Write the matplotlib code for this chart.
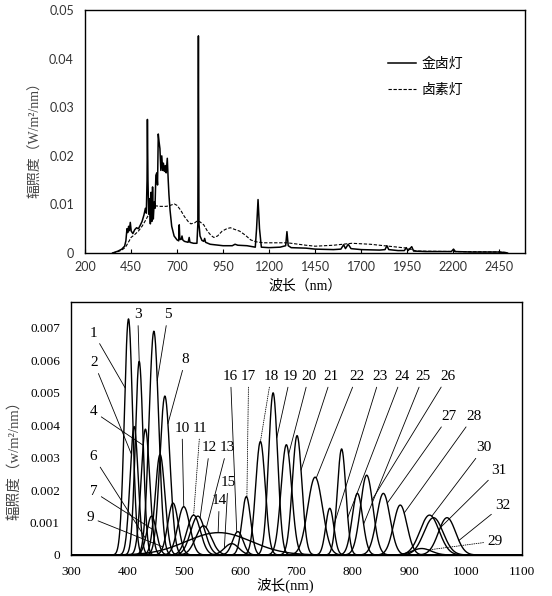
import numpy as np
import matplotlib
matplotlib.use("Agg")
import matplotlib.pyplot as plt

# ---- top panel: lamp spectra (wavelength nm, irradiance W/m2/nm) ----
mh_wl = [350, 380, 400, 415, 422, 428, 432, 437, 441, 446, 451, 460, 470, 480, 490,
         500, 510, 520, 528, 533, 537, 539, 542, 546, 551, 555, 559, 563, 567, 571,
         576, 580, 585, 590, 594, 598, 602, 607, 612, 617, 622, 626, 631, 636, 641,
         647, 652, 656, 662, 671, 684, 700, 709, 712, 715, 722, 727, 731, 740, 760,
         766, 770, 790, 808, 813, 816, 819, 825, 835, 845, 850, 855, 880, 950, 1000,
         1015, 1030, 1080, 1110, 1125, 1132, 1140, 1148, 1158, 1200, 1260, 1290, 1297,
         1304, 1320, 1400, 1450, 1550, 1590, 1605, 1615, 1630, 1645, 1700, 1800, 1830,
         1840, 1850, 1900, 1935, 1945, 1955, 1975, 1985, 2050, 2190, 2202, 2212, 2300,
         2450, 2480, 2495]
mh_val = [0, 0.0004, 0.0008, 0.0014, 0.0025, 0.005, 0.0042, 0.0055, 0.0046, 0.0063,
          0.0045, 0.004, 0.0048, 0.0052, 0.005, 0.0057, 0.0065, 0.0078, 0.0092, 0.0082,
          0.015, 0.0275, 0.015, 0.008, 0.0112, 0.006, 0.0125, 0.0065, 0.0136, 0.007,
          0.0105, 0.0092, 0.016, 0.0165, 0.014, 0.0245, 0.023, 0.0215, 0.017, 0.02,
          0.017, 0.0185, 0.0168, 0.018, 0.0165, 0.0195, 0.015, 0.012, 0.0088, 0.0055,
          0.0035, 0.0027, 0.0025, 0.0058, 0.0028, 0.0028, 0.0035, 0.0027, 0.0024, 0.0022,
          0.0032, 0.0022, 0.002, 0.002, 0.006, 0.0447, 0.006, 0.0035, 0.0026, 0.0024,
          0.003, 0.0022, 0.0018, 0.0015, 0.0015, 0.0018, 0.0016, 0.0015, 0.0013, 0.0012,
          0.005, 0.011, 0.005, 0.0012, 0.0011, 0.0012, 0.0015, 0.0044, 0.0015, 0.0011,
          0.001, 0.0008, 0.0007, 0.0008, 0.0017, 0.0009, 0.0018, 0.0009, 0.0007, 0.0006,
          0.0007, 0.0015, 0.0007, 0.0005, 0.0005, 0.0011, 0.0005, 0.0013, 0.0004, 0.0003,
          0.0003, 0.0008, 0.0003, 0.0002, 0.0002, 0.0001, 0]

hal_wl = [350, 380, 400, 420, 440, 450, 470, 490, 510, 530, 550, 570, 585, 610, 640,
          655, 670, 685, 700, 720, 740, 760, 775, 795, 810, 825, 845, 865, 885, 900,
          920, 945, 970, 990, 1010, 1040, 1070, 1100, 1130, 1170, 1250, 1300, 1400,
          1450, 1550, 1650, 1750, 1850, 1950, 2000, 2200, 2450, 2490]
hal_val = [0, 0.0003, 0.0006, 0.0012, 0.0025, 0.0032, 0.0038, 0.0045, 0.0055, 0.0068,
           0.0082, 0.0093, 0.0097, 0.0096, 0.0096, 0.0097, 0.0099, 0.0101, 0.0098,
           0.0088, 0.0075, 0.0065, 0.006, 0.0062, 0.0066, 0.0064, 0.0058, 0.0045,
           0.0036, 0.0032, 0.0035, 0.0045, 0.005, 0.0052, 0.0049, 0.0045, 0.0037,
           0.0027, 0.0023, 0.0021, 0.0021, 0.0021, 0.0016, 0.0014, 0.0016, 0.002,
           0.0018, 0.0014, 0.001, 0.0004, 0.0003, 0.0002, 0.0001]

top_xticks = [200, 450, 700, 950, 1200, 1450, 1700, 1950, 2200, 2450]
top_yticks = [0, 0.01, 0.02, 0.03, 0.04, 0.05]
top_ylabels = ["0", "0.01", "0.02", "0.03", "0.04", "0.05"]

# ---- bottom panel: 32 LED channels (peak nm, peak irradiance, FWHM nm) ----
led_peak = [402, 412, 421, 432, 447, 443, 458, 466.5, 481, 500, 517.5, 525, 535, 562,
            585, 596, 611, 636, 658.5, 682, 701, 733, 759, 780, 808, 824.5, 854, 884,
            922, 936, 943, 967]
led_height = [0.00728, 0.00396, 0.00597, 0.00388, 0.0069, 0.0012, 0.0031, 0.0049,
              0.0016, 0.00149, 0.00123, 0.0012, 0.0009, 0.00069, 0.00035, 0.00072,
              0.0018, 0.0035, 0.005, 0.0034, 0.00368, 0.0024, 0.00144, 0.00327,
              0.0019, 0.00246, 0.0019, 0.00154, 0.0002, 0.00123, 0.00115, 0.00115]
led_fwhm = [17, 17, 16, 18, 20, 20, 20, 21, 22, 25, 28, 30, 32, 136, 30, 22, 18, 20,
            19, 22, 20, 31, 17, 18, 22, 26, 28, 28, 40, 40, 40, 36]

# label: wavelength where the leader meets the curve, text position
lab_target = [396, 407, 421, 428, 453, 432, 444, 472, 463, 500, 517.5, 529, 540, 561,
              572, 594, 612, 636, 665, 686, 708, 735, 766, 791, 819, 834, 861, 891,
              934, 940, 956, 988]
lab_tx = [340, 341, 418.5, 340, 472, 340, 340, 503, 334, 497, 529, 546, 577, 563,
          578.5, 583, 615, 655, 689, 722, 762, 807, 848, 887, 925, 968, 970, 1014,
          1052.5, 1032, 1058.6, 1066]
lab_ty = [0.00684, 0.00592, 0.0074, 0.00442, 0.0074, 0.00303, 0.00195, 0.00602,
          0.00115, 0.0039, 0.0039, 0.0033, 0.0033, 0.00167, 0.00223, 0.0055, 0.0055,
          0.0055, 0.0055, 0.0055, 0.0055, 0.0055, 0.0055, 0.0055, 0.0055, 0.0055,
          0.00427, 0.00427, 0.00043, 0.0033, 0.00262, 0.00154]
dotted_labels = [11, 17, 18, 29]

bot_xticks = [300, 400, 500, 600, 700, 800, 900, 1000, 1100]
bot_yticks = [0, 0.001, 0.002, 0.003, 0.004, 0.005, 0.006, 0.007]
bot_ylabels = ["0", "0.001", "0.002", "0.003", "0.004", "0.005", "0.006", "0.007"]

serif_cjk = ["Liberation Serif", "Noto Sans CJK SC", "DejaVu Sans"]
sans_cjk = ["Lato", "Noto Sans CJK SC", "DejaVu Sans"]

fig = plt.figure(figsize=(5.52, 5.96), dpi=100)

# ---------------- top panel ----------------
ax1 = fig.add_axes([0.154, 0.5755, 0.797, 0.4075])
ax1.plot(mh_wl, mh_val, color="black", lw=1.1, label="金卤灯")
ax1.plot(hal_wl, hal_val, color="black", lw=0.8, ls=(0, (3, 1.5)), label="卤素灯")
ax1.set_xlim(200, 2590)
ax1.set_ylim(0, 0.05)
ax1.set_xticks(top_xticks)
ax1.set_yticks(top_yticks)
ax1.set_yticklabels(top_ylabels)
ax1.tick_params(axis="x", direction="in", length=3, width=0.8, pad=6)
ax1.tick_params(axis="y", length=0, pad=8)
for lbl in ax1.get_xticklabels() + ax1.get_yticklabels():
    lbl.set_family(sans_cjk)
    lbl.set_fontsize(9)
    lbl.set_color("#333333")
for sp in ax1.spines.values():
    sp.set_linewidth(1.0)
ax1.set_xlabel("波长（nm）", family=serif_cjk, fontsize=10)
ax1.xaxis.set_label_coords(0.5, -0.11)
ax1.set_ylabel("辐照度（W/m²/nm）", family=serif_cjk, fontsize=10, color="#444444")
ax1.yaxis.set_label_coords(-0.098, 0.48)
leg = ax1.legend(loc="upper left", bbox_to_anchor=(0.66, 0.855), frameon=False,
                 handlelength=2.0, handletextpad=0.4, labelspacing=0.9,
                 prop={"family": serif_cjk, "size": 10})

# ---------------- bottom panel ----------------
ax2 = fig.add_axes([0.1286, 0.0688, 0.8171, 0.4245])
wl = np.arange(300, 1100.5, 0.5)
curves = []
for c, h, w in zip(led_peak, led_height, led_fwhm):
    s = w / 2.3548
    y = h * np.exp(-0.5 * ((wl - c) / s) ** 2)
    curves.append((c, h, s))
    ax2.plot(wl, y, color="black", lw=1.0)

for i in range(len(led_peak)):
    c, h, s = curves[i]
    tx = lab_target[i]
    ty = h * np.exp(-0.5 * ((tx - c) / s) ** 2)
    ls = ":" if (i + 1) in dotted_labels else "-"
    ax2.annotate(str(i + 1), xy=(tx, ty), xytext=(lab_tx[i], lab_ty[i]),
                 ha="center", va="center", fontsize=11, family="Liberation Serif",
                 arrowprops=dict(arrowstyle="-", lw=0.6, color="black", ls=ls,
                                 shrinkA=1, shrinkB=0))

ax2.set_xlim(300, 1100)
ax2.set_ylim(0, 0.0078)
ax2.set_xticks(bot_xticks)
ax2.set_yticks(bot_yticks)
ax2.set_yticklabels(bot_ylabels)
ax2.tick_params(length=0, pad=8)
for lbl in ax2.get_xticklabels() + ax2.get_yticklabels():
    lbl.set_family("Liberation Serif")
    lbl.set_fontsize(9.5)
for sp in ax2.spines.values():
    sp.set_linewidth(1.0)
ax2.set_xlabel("波长(nm)", family=serif_cjk, fontsize=10.5)
ax2.xaxis.set_label_coords(0.475, -0.09)
ax2.set_ylabel("辐照度（w/m²/nm）", family=serif_cjk, fontsize=10.5, color="#444444")
ax2.yaxis.set_label_coords(-0.108, 0.39)

fig.savefig("out.png", dpi=100)
